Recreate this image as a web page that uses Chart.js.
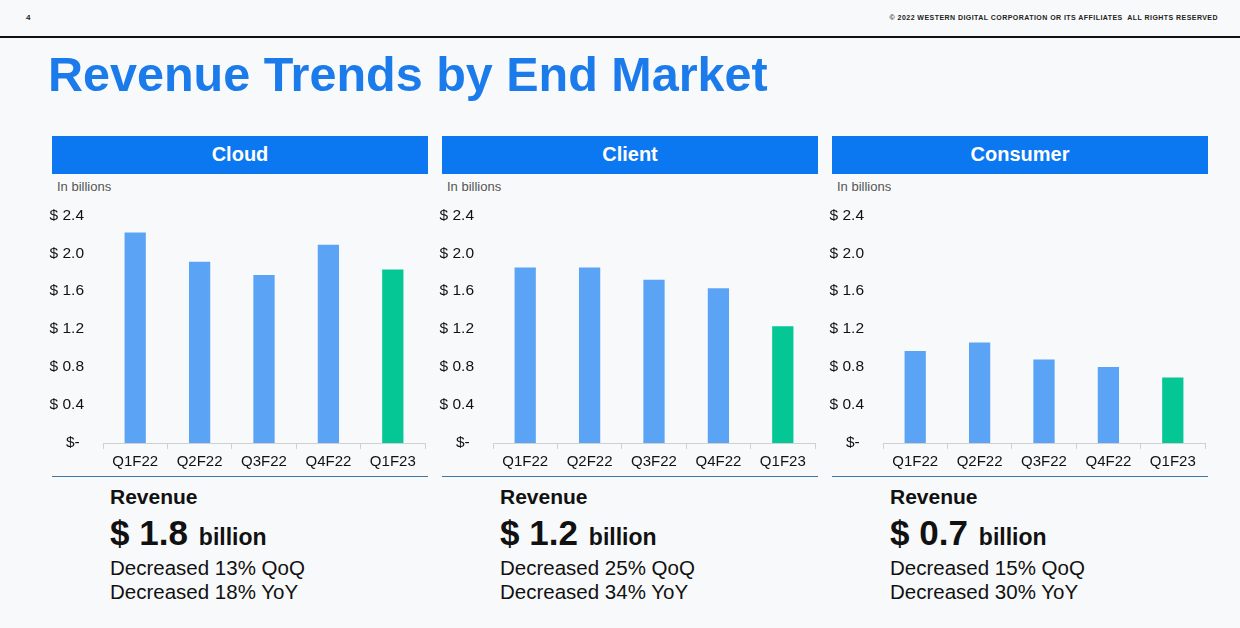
<!DOCTYPE html>
<html>
<head>
<meta charset="utf-8">
<script src="https://cdn.jsdelivr.net/npm/chart.js@4/dist/chart.umd.min.js"></script>
<style>
  body { margin: 0; width: 1240px; height: 628px; background: #f8f9fa; font-family: Arial, "Liberation Sans", sans-serif; position: relative; overflow: hidden; }
  .abs { position: absolute; }
  #pagenum { left: 26px; top: 13px; font-size: 8px; font-weight: bold; color: #222; }
  #copy { right: 22px; top: 14px; font-size: 7px; font-weight: bold; color: #222; letter-spacing: 0.45px; }
  #rule { left: 0; top: 36px; width: 1240px; height: 2px; background: #111; }
  #title { left: 48px; top: 46px; font-size: 48.5px; font-weight: bold; color: #1c7beb; }
  .head { width: 376px; height: 38px; top: 136px; background: #0b78f2; color: #fff; font-weight: bold; font-size: 20px; text-align: center; line-height: 36px; }
  .unit { top: 179px; font-size: 13px; color: #555; }
  .line { top: 476px; width: 376px; height: 1px; background: #3b78a6; }
  .rev { top: 485px; font-size: 21px; font-weight: bold; color: #111; }
  .big { top: 513px; font-size: 35px; font-weight: bold; color: #111; }
  .big span { font-size: 23px; margin-left: 11px; }
  .desc { font-size: 20.5px; color: #111; }
  canvas { position: absolute; }
</style>
</head>
<body>
<div id="pagenum" class="abs">4</div>
<div id="copy" class="abs">© 2022 WESTERN DIGITAL CORPORATION OR ITS AFFILIATES&nbsp; ALL RIGHTS RESERVED</div>
<div id="rule" class="abs"></div>
<div id="title" class="abs">Revenue Trends by End Market</div>
<div id="panels"></div>

<script>
const quarters = ["Q1F22", "Q2F22", "Q3F22", "Q4F22", "Q1F23"];
const markets = ["Cloud", "Client", "Consumer"];
const cloudRevenue = [2.22, 1.91, 1.77, 2.09, 1.83];
const clientRevenue = [1.85, 1.85, 1.72, 1.63, 1.23];
const consumerRevenue = [0.97, 1.06, 0.88, 0.80, 0.69];
const yTicks = [0, 0.4, 0.8, 1.2, 1.6, 2.0, 2.4];
const latestRevenue = ["1.8", "1.2", "0.7"];
const qoqChange = ["Decreased 13% QoQ", "Decreased 25% QoQ", "Decreased 15% QoQ"];
const yoyChange = ["Decreased 18% YoY", "Decreased 34% YoY", "Decreased 30% YoY"];

const series = [cloudRevenue, clientRevenue, consumerRevenue];
const panelX = [52, 442, 832];
const holder = document.getElementById("panels");

function addDiv(cls, x, y, html) {
  const d = document.createElement("div");
  d.className = "abs " + cls;
  d.style.left = x + "px";
  if (y !== null) d.style.top = y + "px";
  d.innerHTML = html;
  holder.appendChild(d);
  return d;
}

markets.forEach((name, i) => {
  const x = panelX[i];
  addDiv("head", x, null, name);
  addDiv("unit", x + 5, null, "In billions");
  addDiv("line", x, null, "");
  addDiv("rev", x + 58, null, "Revenue");
  addDiv("big", x + 58, null, "$ " + latestRevenue[i] + "<span>billion</span>");
  addDiv("desc", x + 58, 556, qoqChange[i]);
  addDiv("desc", x + 58, 580, yoyChange[i]);

  const cv = document.createElement("canvas");
  cv.style.left = (x - 8) + "px";
  cv.style.top = "187px";
  cv.width = 390;
  cv.height = 291;
  cv.style.width = "390px";
  cv.style.height = "291px";
  holder.appendChild(cv);

  const colors = quarters.map((q, k) => (k === quarters.length - 1 ? "#05c795" : "#5ba3f4"));

  new Chart(cv, {
    type: "bar",
    data: {
      labels: quarters,
      datasets: [{
        data: series[i],
        backgroundColor: colors,
        borderWidth: 0,
        categoryPercentage: 1.0,
        barPercentage: 0.33,
      }],
    },
    options: {
      responsive: false,
      animation: false,
      layout: { padding: { top: 14, right: 9, left: 0, bottom: 0 } },
      plugins: { legend: { display: false }, tooltip: { enabled: false } },
      scales: {
        x: {
          grid: { display: true, drawOnChartArea: false, offset: true, color: "#d0d0d0", tickLength: 6 },
          border: { display: true, color: "#d0d0d0" },
          ticks: { color: "#111", padding: 4, font: { family: "Arial, 'Liberation Sans'", size: 15 } },
          afterFit: (axis) => { axis.height = 35; },
        },
        y: {
          min: 0,
          max: 2.4,
          afterBuildTicks: (axis) => { axis.ticks = yTicks.map((v) => ({ value: v })); },
          grid: { display: false, drawTicks: false },
          border: { display: false },
          ticks: {
            color: "#111",
            padding: 19,
            font: { family: "Arial, 'Liberation Sans'", size: 15.5 },
            callback: (v) => (v === 0 ? "$- " : "$ " + v.toFixed(1)),
          },
          afterFit: (axis) => { axis.width = 59; },
        },
      },
    },
  });
});
</script>
</body>
</html>
